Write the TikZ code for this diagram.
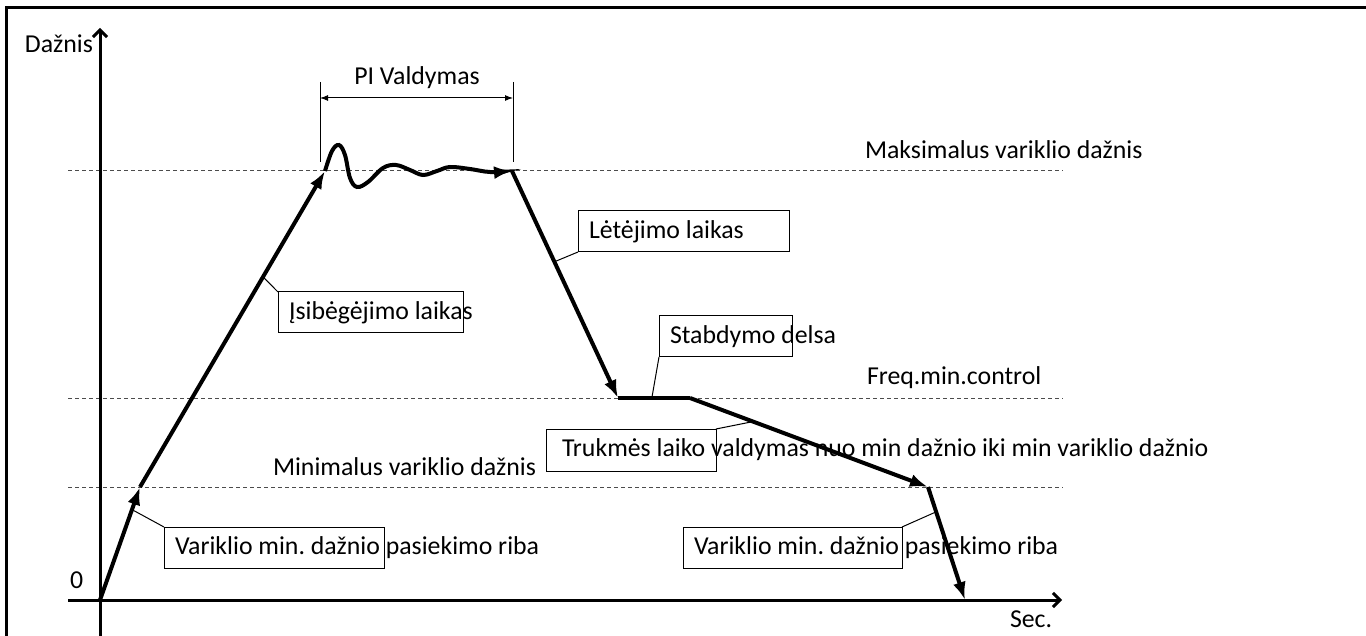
\documentclass[tikz,border=0pt]{standalone}
\usepackage{fontspec}
\setmainfont{Carlito}
\usetikzlibrary{positioning,calc,arrows.meta}
\frenchspacing
\newcommand\notetext[1]{\spaceskip=0pt\xspaceskip=0pt\rlap{#1}}

\begin{document}
\begin{tikzpicture}[x=0.5pt,y=-0.5pt,inner sep=0pt,outer sep=0pt,font=\fontsize{12.9}{15}\selectfont]
    \tikzstyle{Note} = [anchor=north west, rectangle, draw=black, line width=0.5pt, minimum height=20.5pt, inner xsep=5.5pt, align=left]
    \tikzstyle{Curve} = [line width=2pt, -{Latex[length=9pt,width=6.5pt]}]
    \tikzstyle{Level} = [draw=black!70, line width=0.5pt, dash pattern=on 2pt off 1.5pt]
    \tikzstyle{Axis} = [line width=1.5pt, -{Straight Barb[length=3.5pt,width=7pt]}]
    \tikzstyle{Lead} = [line width=0.5pt]
    \useasboundingbox (0,0) rectangle (1366,636);
    % frame
    \draw[line width=1.5pt] (6,636) -- (6,8) -- (1366,8);
    % levels
    \draw[Level] (68,171) -- (1063,171);
    \draw[Level] (68,398) -- (1063,398);
    \draw[Level] (68,487) -- (1063,487);
    % axes
    \coordinate (yb) at (100,636);
    \coordinate (yt) at (100,28);
    \coordinate (xl) at (68,600);
    \coordinate (xr) at (1062,600);
    \draw[Axis] (yb) -- (yt);
    \draw[Axis] (xl) -- (xr);
    \node[anchor=base west] (ylab) at (25,53) {Dažnis};
    \node[anchor=base west] (zero) at (70,588) {0};
    \node[anchor=base west] (xlab) at (1010,627) {Sec.};
    \node[anchor=base west] (lmax) at (865,159) {Maksimalus variklio dažnis};
    \node[anchor=base west] (lfrq) at (867,385) {Freq.min.control};
    \node[anchor=base west] (lmin) at (273,475) {Minimalus variklio dažnis};
    % curve
    \coordinate (o)   at (100,600);
    \coordinate (m1)  at (140,487);
    \coordinate (mx1) at (325,171);
    \coordinate (mx2) at (512,171);
    \coordinate (f1)  at (618,398);
    \coordinate (f2)  at (690,398);
    \coordinate (m2)  at (928,487);
    \coordinate (e)   at (965,600);
    \draw[Curve] (o) -- (m1);
    \draw[Curve] (m1) -- (mx1);
    \draw[Curve] plot[smooth,tension=0.6] coordinates {(325,171) (332,151) (339,145) (345,155) (350,178) (357,187) (368,182) (383,168) (396,165) (410,170) (423,175) (437,171) (450,167) (470,169) (490,172) (512,171)};
    \draw[Curve] (mx2) -- (f1);
    \draw[line width=2pt] (f1) -- (f2);
    \draw[Curve] (f2) -- (m2);
    \draw[Curve] (m2) -- (e);
    % PI range
    \coordinate (pL) at (320,98);
    \coordinate (pR) at (513,98);
    \draw[Lead] (320,82) -- (320,162);
    \draw[Lead] (513,82) -- (513,162);
    \draw[Lead, {Latex[length=4pt,width=3pt]}-{Latex[length=4pt,width=3pt]}] (pL) -- (pR);
    \node[anchor=base] (pi) at (417,85) {PI Valdymas};
    % notes
    \node[Note, text width=81.5pt] (acc) at (278,292) {\notetext{Įsibėgėjimo laikas}};
    \node[Note, text width=94.5pt] (dec) at (578,211) {\notetext{Lėtėjimo laikas}};
    \node[Note, text width=55.5pt] (brk) at (659,316) {\notetext{Stabdymo delsa}};
    \node[Note, text width=69pt, inner xsep=8pt, minimum height=21pt] (dur) at (546,429) {\notetext{Trukmės laiko valdymas nuo min dažnio iki min variklio dažnio}};
    \node[Note, text width=99pt] (minL) at (164,527) {\notetext{Variklio min. dažnio pasiekimo riba}};
    \node[Note, text width=98.5pt] (minR) at (683,527) {\notetext{Variklio min. dažnio pasiekimo riba}};
    \draw[Lead] (acc.north west) -- ($(m1)!0.665!(mx1)$);
    \draw[Lead] (dec.south west) -- ($(mx2)!0.4!(f1)$);
    \draw[Lead] (brk.south west) -- ($(f1)!0.47!(f2)$);
    \draw[Lead] (dur.north east) -- ($(f2)!0.265!(m2)$);
    \draw[Lead] (minL.north west) -- ($(o)!0.8!(m1)$);
    \draw[Lead] (minR.north east) -- ($(m2)!0.22!(e)$);
\end{tikzpicture}
\end{document}
